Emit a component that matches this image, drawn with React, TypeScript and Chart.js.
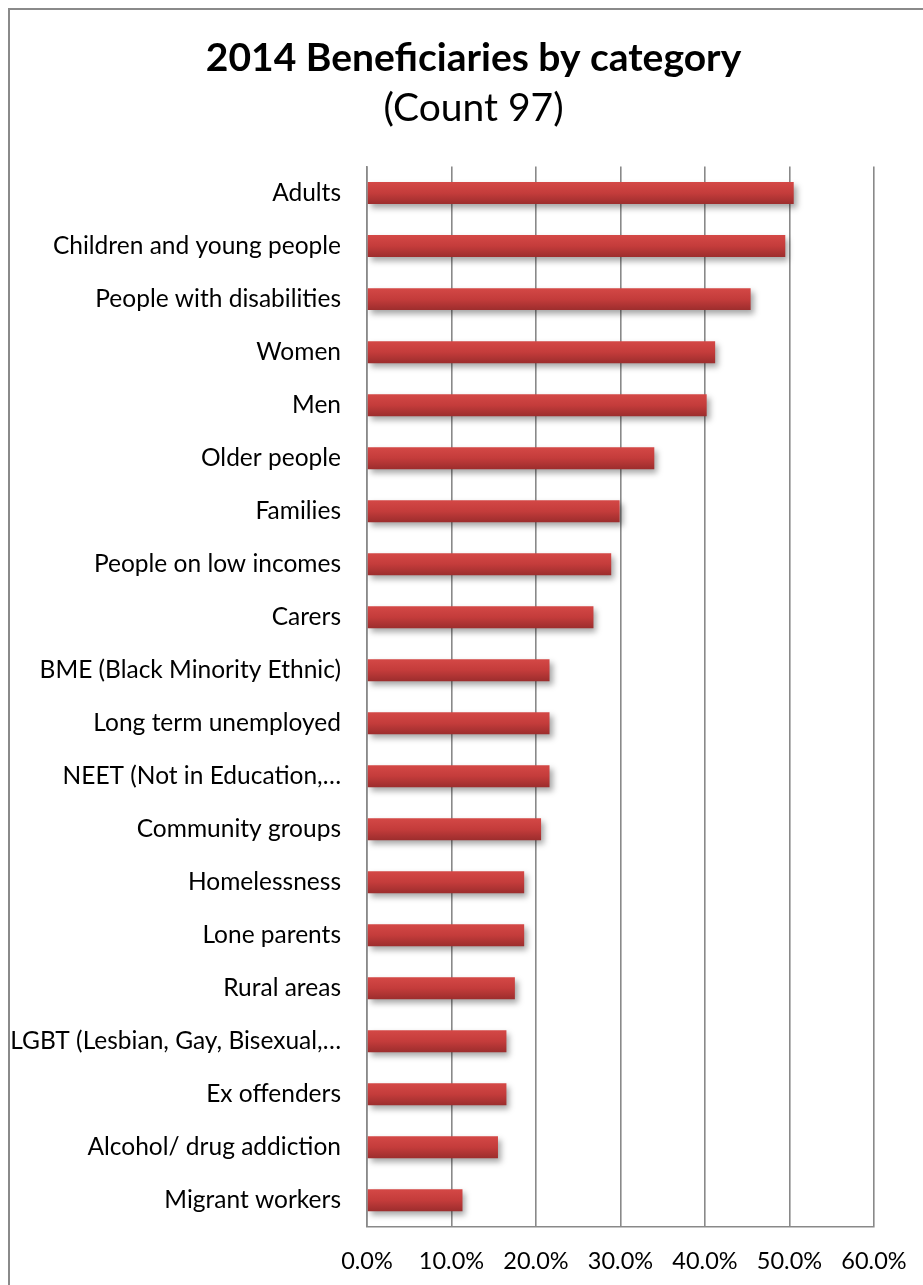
import React, { useEffect, useRef } from "react";
import { Chart, registerables } from "chart.js";

Chart.register(...registerables);

const categories: string[] = [
  "Adults",
  "Children and young people",
  "People with disabilities",
  "Women",
  "Men",
  "Older people",
  "Families",
  "People on low incomes",
  "Carers",
  "BME (Black Minority Ethnic)",
  "Long term unemployed",
  "NEET (Not in Education,…",
  "Community groups",
  "Homelessness",
  "Lone parents",
  "Rural areas",
  "LGBT (Lesbian, Gay, Bisexual,…",
  "Ex offenders",
  "Alcohol/ drug addiction",
  "Migrant workers",
];

const percentages: number[] = [
  50.5, 49.5, 45.4, 41.2, 40.2, 34.0, 29.9, 28.9, 26.8, 21.6, 21.6, 21.6, 20.6,
  18.6, 18.6, 17.5, 16.5, 16.5, 15.5, 11.3,
];

const titleText = "2014 Beneficiaries by category";
const subtitleText = "(Count 97)";
const xMin = 0;
const xMax = 60;
const xStep = 10;

const FONT = "Lato, 'Open Sans', sans-serif";
const BAR_FRACTION = 0.415;
const CANVAS_W = 918;
const CANVAS_H = 1300;

const shadowPlugin = {
  id: "barShadow",
  afterLayout(chart: any) {
    // let the long category labels extend left of the axis box (no clipping)
    const y = chart.scales.y;
    if (y) y.left = 0;
  },
  beforeDatasetsDraw(chart: any) {
    const ctx = chart.ctx;
    ctx.save();
    ctx.shadowColor = "rgba(0,0,0,0.35)";
    ctx.shadowBlur = 6;
    ctx.shadowOffsetX = 3;
    ctx.shadowOffsetY = 4;
  },
  afterDatasetsDraw(chart: any) {
    chart.ctx.restore();
  },
};

export default function App() {
  const canvasRef = useRef<HTMLCanvasElement | null>(null);

  useEffect(() => {
    if (!canvasRef.current) return;
    const chart = new Chart(canvasRef.current, {
      type: "bar",
      data: {
        labels: categories,
        datasets: [
          {
            data: percentages,
            backgroundColor: (c: any) => {
              const ch = c.chart;
              const y = ch.scales && ch.scales.y;
              if (!y || c.dataIndex === undefined) return "#c03b3b";
              const center = y.getPixelForValue(c.dataIndex);
              const step = Math.abs(y.getPixelForValue(1) - y.getPixelForValue(0));
              if (!Number.isFinite(center) || !Number.isFinite(step) || step === 0) return "#c03b3b";
              const half = (step * BAR_FRACTION) / 2;
              const g = ch.ctx.createLinearGradient(0, center - half, 0, center + half);
              g.addColorStop(0, "#d44846");
              g.addColorStop(0.5, "#c43c3b");
              g.addColorStop(1, "#9c2d2d");
              return g;
            },
            borderWidth: 0,
            categoryPercentage: 1,
            barPercentage: BAR_FRACTION,
          },
        ],
      },
      options: {
        indexAxis: "y",
        animation: false,
        responsive: false,
        maintainAspectRatio: false,
        layout: { padding: { left: 63, right: 54, top: 0, bottom: 13 } },
        plugins: {
          legend: { display: false },
          tooltip: { enabled: false },
          title: {
            display: true,
            text: titleText,
            color: "#000",
            font: { family: FONT, size: 39, weight: "bold" },
            padding: { top: 25, bottom: 0 },
          },
          subtitle: {
            display: true,
            text: subtitleText,
            color: "#000",
            font: { family: FONT, size: 39, weight: "normal" },
            padding: { top: 3, bottom: 35 },
          },
        },
        scales: {
          x: {
            type: "linear",
            position: "bottom",
            min: xMin,
            max: xMax,
            ticks: {
              stepSize: xStep,
              color: "#000",
              font: { family: FONT, size: 23.5 },
              padding: 21,
              callback: (v: any) => Number(v).toFixed(1) + "%",
            },
            grid: {
              color: "#898989",
              lineWidth: 1.6,
              drawTicks: false,
            },
            border: { display: true, color: "#898989", width: 1.6 },
          },
          y: {
            type: "category",
            position: "left",
            afterFit: (scale: any) => {
              scale.width = 294;
            },
            ticks: {
              color: "#000",
              font: { family: FONT, size: 24.5 },
              padding: 26,
              autoSkip: false,
            },
            grid: { display: false, drawTicks: false },
            border: { display: true, color: "#898989", width: 1.6 },
          },
        },
      },
      plugins: [shadowPlugin],
    } as any);
    return () => chart.destroy();
  }, []);

  return (
    <div
      style={{
        position: "fixed",
        left: 8,
        top: 8,
        width: CANVAS_W + 2,
        height: CANVAS_H + 2,
        borderLeft: "2px solid #8a8a8a",
        borderTop: "2px solid #8a8a8a",
        overflow: "hidden",
        background: "#fff",
        boxSizing: "border-box",
      }}
    >
      <canvas
        ref={canvasRef}
        width={CANVAS_W}
        height={CANVAS_H}
        style={{ display: "block", width: CANVAS_W, height: CANVAS_H }}
      />
    </div>
  );
}
